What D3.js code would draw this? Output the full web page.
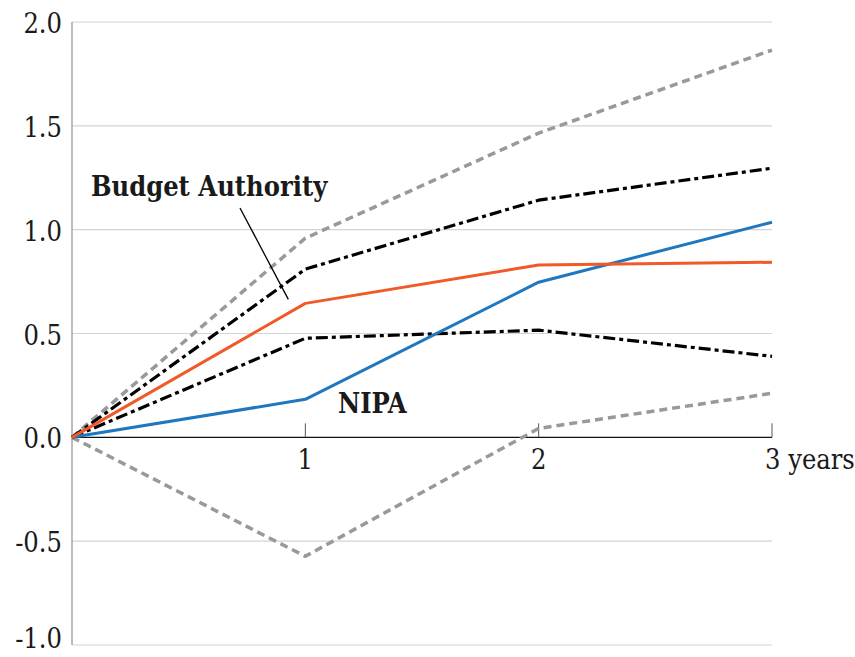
<!DOCTYPE html>
<html>
<head>
<meta charset="utf-8">
<script src="https://cdn.jsdelivr.net/npm/d3@7"></script>
<style>
  html, body { margin: 0; padding: 0; background: #fff; }
  svg { display: block; }
  text { font-family: "DejaVu Serif Condensed", "DejaVu Serif", serif; fill: #1a1a1a; }
</style>
</head>
<body>
<svg id="chart" width="855" height="657"></svg>
<script>
// Years after the change
const years = [0, 1, 2, 3];
// Response paths (percent)
const budgetAuthority = [0, 0.645, 0.83, 0.843];
const nipa = [0, 0.183, 0.747, 1.036];
const bandInnerUpper = [0, 0.81, 1.142, 1.296];
const bandInnerLower = [0, 0.477, 0.516, 0.39];
const bandOuterUpper = [0, 0.959, 1.465, 1.865];
const bandOuterLower = [0, -0.573, 0.043, 0.212];
// Axis labels
const yTicks = [-1.0, -0.5, 0.0, 0.5, 1.0, 1.5, 2.0];
const yTickLabels = ["-1.0", "-0.5", "0.0", "0.5", "1.0", "1.5", "2.0"];
const xTicks = [1, 2, 3];
const xTickLabels = ["1", "2", "3 years"];

const svg = d3.select("#chart");
const x = d3.scaleLinear().domain([0, 3]).range([72, 772]);
const y = d3.scaleLinear().domain([-1, 2]).range([645, 22]);

// Horizontal gridlines
svg.append("g").selectAll("line")
  .data(yTicks.filter(d => d !== 0))
  .join("line")
  .attr("x1", x(0)).attr("x2", x(3))
  .attr("y1", d => y(d)).attr("y2", d => y(d))
  .attr("stroke", "#d4d4d4").attr("stroke-width", 1.2);

// Vertical axis line
svg.append("line")
  .attr("x1", x(0)).attr("x2", x(0))
  .attr("y1", y(2)).attr("y2", y(-1))
  .attr("stroke", "#999").attr("stroke-width", 1.3);

// Y tick labels (the lowest one is nudged up to stay inside the frame)
svg.append("g").selectAll("text")
  .data(yTicks)
  .join("text")
  .attr("x", 62)
  .attr("y", d => Math.min(y(d) + 11, 648))
  .attr("text-anchor", "end")
  .attr("font-size", 27)
  .text((d, i) => yTickLabels[i]);

// Zero axis with ticks
svg.append("line")
  .attr("x1", x(0)).attr("x2", x(3))
  .attr("y1", y(0)).attr("y2", y(0))
  .attr("stroke", "#111").attr("stroke-width", 1.4);
svg.append("g").selectAll("line")
  .data(xTicks)
  .join("line")
  .attr("x1", d => x(d)).attr("x2", d => x(d))
  .attr("y1", y(0) - 14).attr("y2", y(0))
  .attr("stroke", "#555").attr("stroke-width", 1);

// X tick labels
svg.append("g").selectAll("text")
  .data(xTicks)
  .join("text")
  .attr("x", (d, i) => i === 2 ? x(d) - 7 : x(d))
  .attr("y", y(0) + 32)
  .attr("text-anchor", (d, i) => i === 2 ? "start" : "middle")
  .attr("font-size", 27)
  .text((d, i) => xTickLabels[i]);

const line = d3.line().x((d, i) => x(years[i])).y(d => y(d));

const series = [
  { values: bandOuterUpper, color: "#999", width: 3.5, dash: "8,5" },
  { values: bandOuterLower, color: "#999", width: 3.5, dash: "8,5" },
  { values: bandInnerUpper, color: "#000", width: 3.2, dash: "12,4,4,4" },
  { values: bandInnerLower, color: "#000", width: 3.2, dash: "12,4,4,4" },
  { values: nipa, color: "#1f77bf", width: 3, dash: null },
  { values: budgetAuthority, color: "#f05a28", width: 3, dash: null }
];

svg.append("g").selectAll("path")
  .data(series)
  .join("path")
  .attr("d", d => line(d.values))
  .attr("fill", "none")
  .attr("stroke", d => d.color)
  .attr("stroke-width", d => d.width)
  .attr("stroke-dasharray", d => d.dash)
  .attr("stroke-linejoin", "round");

// Series annotations
svg.append("text")
  .attr("x", 91).attr("y", 196)
  .attr("font-size", 27).attr("font-weight", "bold")
  .text("Budget Authority");
svg.append("line")
  .attr("x1", 240).attr("y1", 208)
  .attr("x2", x(1) - 17).attr("y2", y(budgetAuthority[1]) - 4)
  .attr("stroke", "#000").attr("stroke-width", 1.3);
svg.append("text")
  .attr("x", 338).attr("y", 413)
  .attr("font-size", 27).attr("font-weight", "bold")
  .text("NIPA");
</script>
</body>
</html>
